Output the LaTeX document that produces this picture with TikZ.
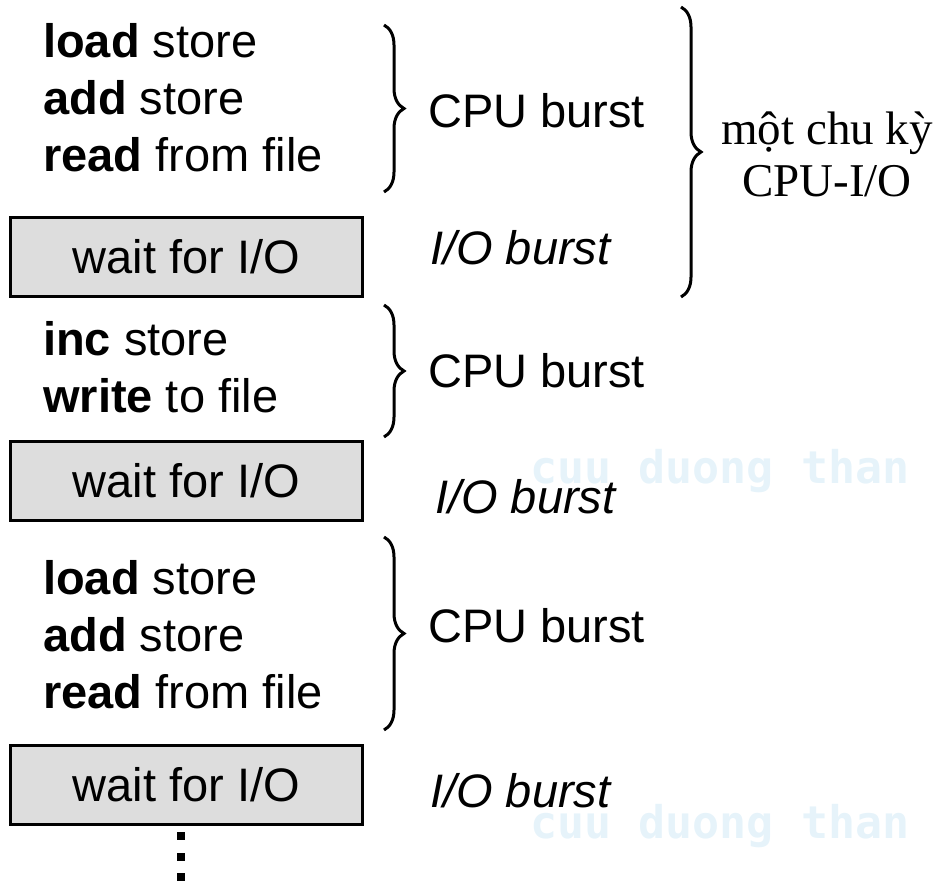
\documentclass[tikz,border=0pt]{standalone}
\usepackage{fontspec}
\setmainfont{Liberation Sans}
\newfontfamily\vnserif{Liberation Serif}
\newfontfamily\wmfont{DejaVu Sans Mono}
\usetikzlibrary{decorations.pathreplacing}
\definecolor{waitgray}{RGB}{221,221,221}
\definecolor{wmblue}{RGB}{230,243,250}

\begin{document}
\begin{tikzpicture}[
  x=1pt,y=-1pt,
  instr/.style={anchor=base west, align=left, inner sep=0pt, font=\fontsize{47}{57}\selectfont},
  waitbox/.style={draw, line width=3pt, fill=waitgray, minimum width=352pt, minimum height=79pt, inner sep=0pt, text height=34pt, text depth=2pt, font=\fontsize{47}{57}\selectfont},
  lbl/.style={anchor=base west, inner sep=0pt, font=\fontsize{47}{57}\selectfont},
  wmark/.style={anchor=base west, inner sep=0pt, text=wmblue, font=\wmfont\bfseries\fontsize{45}{45}\selectfont},
  brc/.style={decorate, decoration={brace, amplitude=20pt}, line width=3pt}
]
\useasboundingbox (0,0) rectangle (936,885);
% watermark
\node[wmark] (wmA) at (530,483) {cuu duong than};
\node[wmark] (wmB) at (530,838) {cuu duong than};

% instructions and waits (base = last line)
\node[instr] (blkA) at (43,172) {\textbf{load} store\\\textbf{add} store\\\textbf{read} from file};
\node[waitbox] (waitA) at (186.5,257) {wait for I/O};
\node[instr] (blkB) at (43,412) {\textbf{inc} store\\\textbf{write} to file};
\node[waitbox] (waitB) at (186.5,481) {wait for I/O};
\node[instr] (blkC) at (43,708) {\textbf{load} store\\\textbf{add} store\\\textbf{read} from file};
\node[waitbox] (waitC) at (186.5,785) {wait for I/O};
\foreach \y in {835.5,857,877} \fill (177,\y-4) rectangle (185,\y+4);

% braces
\draw[brc] (384,25) -- (384,192);
\draw[brc] (384,305) -- (384,437);
\draw[brc] (384,537) -- (384,730);
\draw[brc] (681,7) -- (681,297);

% labels
\node[lbl] (cpuA) at (428,128) {CPU burst};
\node[lbl] (ioA) at (430,265) {\itshape I/O burst};
\node[lbl] (cpuB) at (428,387) {CPU burst};
\node[lbl] (ioB) at (435,513) {\itshape I/O burst};
\node[lbl] (cpuC) at (428,642) {CPU burst};
\node[lbl] (ioC) at (430,807) {\itshape I/O burst};
\node[anchor=base, align=center, inner sep=0pt, font=\vnserif\fontsize{47}{52}\selectfont] (cycle) at (827,197) {một chu kỳ\\CPU-I/O};
\end{tikzpicture}
\end{document}
